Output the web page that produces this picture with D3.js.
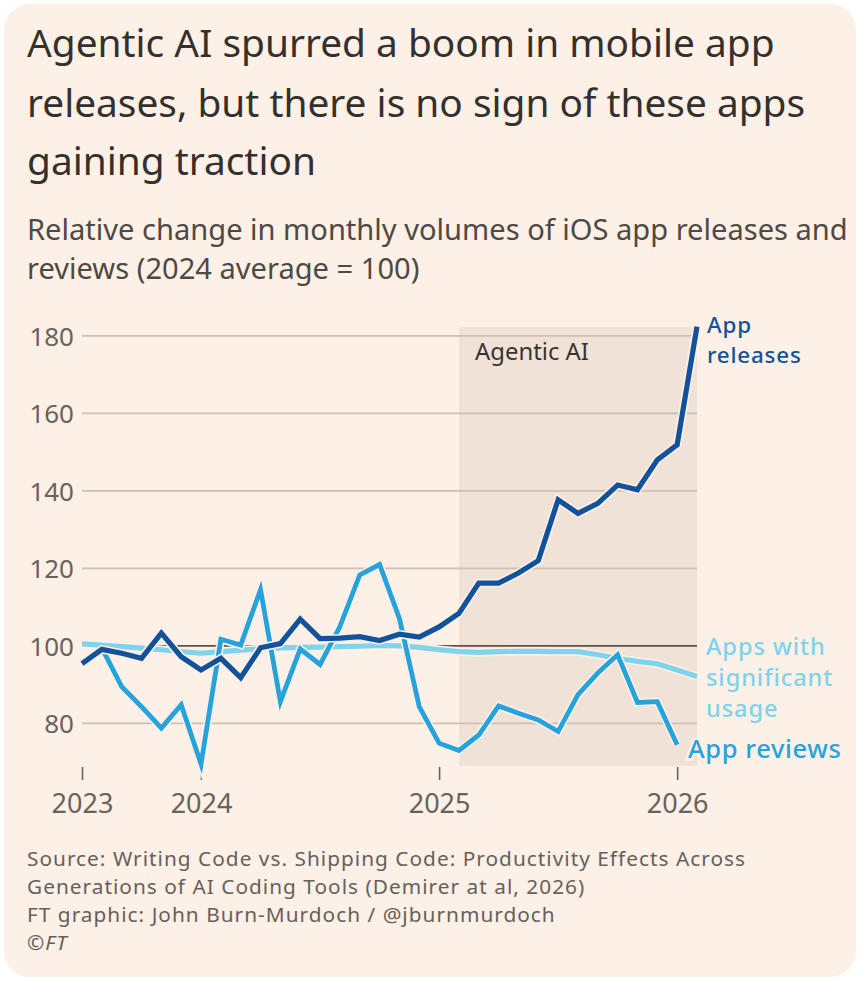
<!DOCTYPE html>
<html>
<head>
<meta charset="utf-8">
<script src="https://cdn.jsdelivr.net/npm/d3@7"></script>
<style>
  html, body { margin: 0; padding: 0; background: #ffffff; }
  svg { display: block; }
  text { font-family: "Noto Sans", "Open Sans", sans-serif; }
</style>
</head>
<body>
<svg id="chart" width="860" height="981"></svg>
<script>
// ---- Data ----
const months = ["2023-07","2023-08","2023-09","2023-10","2023-11","2023-12",
  "2024-01","2024-02","2024-03","2024-04","2024-05","2024-06","2024-07","2024-08",
  "2024-09","2024-10","2024-11","2024-12","2025-01","2025-02","2025-03","2025-04",
  "2025-05","2025-06","2025-07","2025-08","2025-09","2025-10","2025-11","2025-12",
  "2026-01","2026-02"];

const appReleases = [95.4, 99.1, 98.1, 96.8, 103.3, 97.2, 93.8, 96.8, 91.8, 99.5,
  100.6, 106.9, 101.9, 102.0, 102.4, 101.4, 103.0, 102.3, 104.9, 108.4,
  116.2, 116.2, 118.8, 122.0, 137.7, 134.2, 136.8, 141.5, 140.3, 148.0, 151.9, 182.4];

const appReviews = [null, 99.5, 89.5, 84.3, 78.8, 84.8, 69.5, 101.7, 100.2, 114.5,
  85.6, 99.2, 95.2, 105.0, 118.3, 121.0, 107.1, 84.3, 74.9, 73.0,
  77.0, 84.5, 82.6, 80.9, 77.9, 87.4, 93.0, 97.7, 85.4, 85.6, 74.5, null];

const significantUsage = [100.5, 100.2, 99.8, 99.4, 99.0, 98.5, 98.1, 98.5, 98.9, 99.2,
  99.5, 99.6, 99.7, 99.8, 99.9, 100.1, 100.0, 99.6, 99.0, 98.5,
  98.3, 98.5, 98.6, 98.6, 98.5, 98.5, 97.7, 96.8, 96.0, 95.4, 93.8, 92.1];

const yTicks = [80, 100, 120, 140, 160, 180];
const xTickMonths = ["2023-07", "2024-01", "2025-01", "2026-01"];
const xTickLabels = ["2023", "2024", "2025", "2026"];
const agenticStart = "2025-02";
const agenticEnd = "2026-02";

const titleLines = ["Agentic AI spurred a boom in mobile app",
  "releases, but there is no sign of these apps",
  "gaining traction"];
const subtitleLines = ["Relative change in monthly volumes of iOS app releases and",
  "reviews (2024 average = 100)"];
const sourceLines = ["Source: Writing Code vs. Shipping Code: Productivity Effects Across",
  "Generations of AI Coding Tools (Demirer at al, 2026)",
  "FT graphic: John Burn-Murdoch / @jburnmurdoch"];

// ---- Styles ----
const BG = "#fdf0e6";
const C_REL = "#13529a";
const C_REV = "#27a3dc";
const C_USE = "#7fd3ea";

const svg = d3.select("#chart");

// card
svg.append("rect").attr("x", 4).attr("y", 4).attr("width", 852).attr("height", 973)
  .attr("rx", 26).attr("fill", BG);

function fitWidth(sel, target) {
  const n = sel.node();
  const fs = parseFloat(sel.attr("font-size"));
  const w = n.getComputedTextLength();
  sel.attr("font-size", (fs * target / w).toFixed(2));
  return fs * target / w;
}

// Title
const t0 = svg.append("text").attr("x", 27).attr("y", 57).attr("font-size", 36)
  .attr("fill", "#33302e").text(titleLines[0]);
const tfs = fitWidth(t0, 748);
titleLines.slice(1).forEach((s, i) => {
  svg.append("text").attr("x", 27).attr("y", 117 + i * 58).attr("font-size", tfs)
    .attr("fill", "#33302e").text(s);
});

// Subtitle
const s0 = svg.append("text").attr("x", 27).attr("y", 240).attr("font-size", 26)
  .attr("fill", "#4f4945").text(subtitleLines[0]);
const sfs = fitWidth(s0, 821);
svg.append("text").attr("x", 27).attr("y", 279).attr("font-size", sfs)
  .attr("fill", "#4f4945").text(subtitleLines[1]);

// ---- Scales ----
const idx = m => months.indexOf(m);
const x = d3.scaleLinear().domain([0, months.length - 1]).range([82, 697]);
const y = d3.scaleLinear().domain([69, 182.3]).range([766, 327]);

// shaded Agentic AI period
svg.append("rect")
  .attr("x", x(idx(agenticStart))).attr("y", y(182.3))
  .attr("width", x(idx(agenticEnd)) - x(idx(agenticStart)))
  .attr("height", y(69) - y(182.3))
  .attr("fill", "#f1e2d8");

// gridlines
const grid = svg.append("g");
yTicks.forEach(v => {
  grid.append("line").attr("x1", x(0)).attr("x2", x(months.length - 1))
    .attr("y1", y(v)).attr("y2", y(v))
    .attr("stroke", v === 100 ? "#5d524c" : "#cdbfb4")
    .attr("stroke-width", v === 100 ? 1.8 : 1.6);
});

// y axis labels
const yAxis = d3.axisLeft(y).tickValues(yTicks).tickSize(0).tickPadding(0);
const gy = svg.append("g").attr("transform", "translate(74,0)").call(yAxis);
gy.select(".domain").remove();
gy.selectAll("text").attr("font-size", 26).attr("fill", "#6b615b")
  .attr("font-family", "'Noto Sans', sans-serif").attr("dy", "0.36em");

// x axis
const xAxis = d3.axisBottom(x).tickValues(xTickMonths.map(idx))
  .tickFormat((d, i) => xTickLabels[i]).tickSize(13).tickPadding(14);
const gx = svg.append("g").attr("transform", "translate(0,767)").call(xAxis);
gx.select(".domain").remove();
gx.selectAll(".tick line").attr("stroke", "#6b615b").attr("stroke-width", 1.6);
gx.selectAll("text").attr("font-size", 27).attr("fill", "#6b615b")
  .attr("font-family", "'Noto Sans', sans-serif");

// Agentic AI label
const ag = svg.append("text").attr("x", 475).attr("y", 360).attr("font-size", 20)
  .attr("fill", "#3a3431").text("Agentic AI");
fitWidth(ag, 114);

// ---- Lines ----
const line = d3.line().defined(d => d != null).x((d, i) => x(i)).y(d => y(d));
function drawSeries(data, color, w) {
  svg.append("path").datum(data).attr("d", line).attr("fill", "none")
    .attr("stroke", BG).attr("stroke-width", w + 3.2)
    .attr("stroke-linejoin", "miter").attr("stroke-miterlimit", 6);
  svg.append("path").datum(data).attr("d", line).attr("fill", "none")
    .attr("stroke", color).attr("stroke-width", w)
    .attr("stroke-linejoin", "miter").attr("stroke-miterlimit", 6);
}
drawSeries(significantUsage, C_USE, 5.2);
drawSeries(appReviews, C_REV, 4.8);
drawSeries(appReleases, C_REL, 5.2);

// ---- Series labels ----
function label(lines, xPos, y0, dy, color, size, ls) {
  const g = svg.append("g");
  lines.forEach((s, i) => {
    g.append("text").attr("x", xPos).attr("y", y0 + i * dy)
      .attr("font-family", "Roboto, 'Noto Sans', sans-serif")
      .attr("font-size", size).attr("font-weight", 500)
      .attr("letter-spacing", ls).attr("fill", color).text(s);
  });
  return g;
}
label(["App", "releases"], 707, 333, 29.5, C_REL, 22.4, 0.8);
label(["Apps with", "significant", "usage"], 706, 655, 31, C_USE, 23.6, 0.9);
const rv = label(["App reviews"], 688, 758, 0, C_REV, 25.5, 0.6);
rv.selectAll("text").attr("stroke", BG).attr("stroke-width", 5).attr("paint-order", "stroke");

// ---- Source ----
const FS_SRC = 20.8;
function srcText(s, yPos, italic) {
  return svg.append("text").attr("x", 27).attr("y", yPos)
    .attr("font-family", "Roboto, 'Noto Sans', sans-serif")
    .attr("font-size", FS_SRC).attr("font-style", italic ? "italic" : "normal")
    .attr("fill", "#66605b").text(s);
}
const f0 = srcText(sourceLines[0], 866, false);
const w0 = f0.node().getComputedTextLength();
const ls = Math.max(0, (718 - w0) / (sourceLines[0].length - 1));
f0.attr("letter-spacing", ls.toFixed(3));
sourceLines.slice(1).forEach((s, i) => {
  srcText(s, 894 + i * 28, false).attr("letter-spacing", ls.toFixed(3));
});
srcText("©FT", 950, true).attr("letter-spacing", ls.toFixed(3));
</script>
</body>
</html>
